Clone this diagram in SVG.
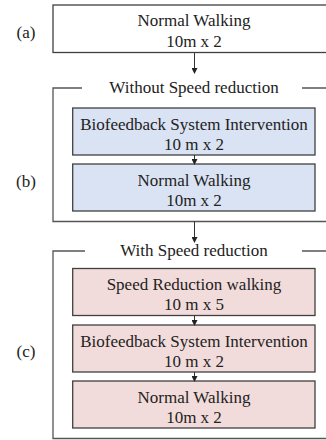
<svg xmlns="http://www.w3.org/2000/svg" width="326" height="440" viewBox="0 0 326 440">
<defs>
<style>
text{font-family:"Liberation Serif","Times New Roman",serif;font-size:17px;fill:#222;text-anchor:middle}
.lbl{font-size:17px}
.box{stroke:#404040;stroke-width:1.3}
.frame{fill:none;stroke:#555;stroke-width:1.3}
.blue{fill:#dae3f3}
.pink{fill:#f2dcdb}
.white{fill:#fff}
.conn{stroke:#333;stroke-width:1;fill:none;marker-end:url(#ah)}
</style>
<marker id="ah" markerWidth="6" markerHeight="6" refX="5" refY="3" orient="auto" markerUnits="userSpaceOnUse">
<path d="M0,0 L6,3 L0,6 z" fill="#222"/>
</marker>
</defs>
<rect width="326" height="440" fill="#fff"/>
<text class="lbl" x="26" y="38">(a)</text>
<text class="lbl" x="26" y="187">(b)</text>
<text class="lbl" x="26" y="357">(c)</text>
<g id="frame-b">
<path class="frame" d="M82,88 H53 V221.5 H326 M302,88 H326"/>
<text x="194" y="93">Without Speed reduction</text>
</g>
<g id="frame-c">
<path class="frame" d="M85,251 H53 V438.5 H326 M302,251 H326"/>
<text x="194" y="256">With Speed reduction</text>
</g>
<g id="a">
<rect class="box white" x="53" y="5" width="280" height="47.5"/>
<text x="194" y="26">Normal Walking</text>
<text x="194" y="47">10m x 2</text>
</g>
<g id="b1">
<rect class="box blue" x="72.7" y="108" width="242.3" height="47"/>
<text x="194" y="130">Biofeedback System Intervention</text>
<text x="194" y="150">10 m x 2</text>
</g>
<g id="b2">
<rect class="box blue" x="72.7" y="164" width="242.3" height="47"/>
<text x="194" y="186">Normal Walking</text>
<text x="194" y="206">10m x 2</text>
</g>
<g id="c1">
<rect class="box pink" x="72.7" y="268.5" width="242.3" height="47"/>
<text x="194" y="290">Speed Reduction walking</text>
<text x="194" y="310">10 m x 5</text>
</g>
<g id="c2">
<rect class="box pink" x="72.7" y="325" width="242.3" height="47"/>
<text x="194" y="347">Biofeedback System Intervention</text>
<text x="194" y="367">10 m x 2</text>
</g>
<g id="c3">
<rect class="box pink" x="72.7" y="381" width="242.3" height="47"/>
<text x="194" y="403">Normal Walking</text>
<text x="194" y="423">10m x 2</text>
</g>
<g id="connectors">
<path class="conn" d="M194.5,52.5 V73"/>
<path class="conn" d="M194.5,155 V164"/>
<path class="conn" d="M194.5,221.5 V242"/>
<path class="conn" d="M194.5,315.5 V325"/>
<path class="conn" d="M194.5,372 V381"/>
</g>
</svg>
